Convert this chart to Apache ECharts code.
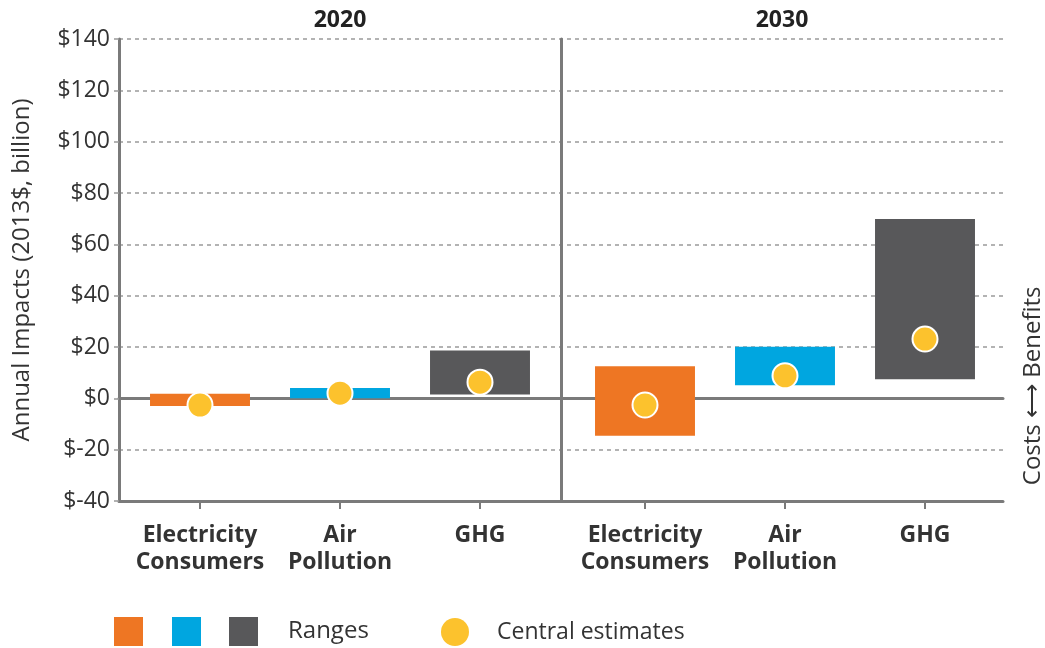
<!DOCTYPE html>
<html>
<head>
<meta charset="utf-8">
<script src="https://cdn.jsdelivr.net/npm/echarts@6/dist/echarts.min.js"></script>
<style>html,body{margin:0;padding:0;background:#fff}#c{width:1045px;height:648px}</style>
</head>
<body>
<div id="c"></div>
<script>
// ---- data ----
const years = ['2020', '2030'];
const categories = ['Electricity\nConsumers', 'Air\nPollution', 'GHG'];
const seriesNames = ['Electricity Consumers', 'Air Pollution', 'GHG'];
const rangeLow2020  = [-3.0, 0.0, 1.5];
const rangeHigh2020 = [1.8, 4.0, 18.6];
const rangeLow2030  = [-14.6, 5.1, 7.4];
const rangeHigh2030 = [12.5, 20.1, 69.9];
const central2020 = [-2.6, 2.0, 6.3];
const central2030 = [-2.6, 8.8, 23.1];
const yMin = -40, yMax = 140, yStep = 20;
const rightLabel = 'Costs \u27F7 Benefits';

// ---- style ----
const colors = ['#EE7623', '#00A6E0', '#58585A'];
const dotColor = '#FCC22D';
const axisGray = '#7a7a7a';
const txt = '#333333';
const FONT = 'Open Sans';

const chart = echarts.init(document.getElementById('c'), null, {renderer: 'canvas'});

function renderRange(params, api) {
  const x = api.value(0), lo = api.value(1), hi = api.value(2);
  const pTop = api.coord([x, hi]);
  const pBot = api.coord([x, lo]);
  const w = api.size([1, 0])[0] * 0.714;
  return {
    type: 'rect',
    shape: {x: pTop[0] - w / 2, y: pTop[1], width: w, height: pBot[1] - pTop[1]},
    style: api.style()
  };
}

const series = [];
[[rangeLow2020, rangeHigh2020, central2020], [rangeLow2030, rangeHigh2030, central2030]].forEach(function (set, g) {
  const axisIdx = g + 1;
  for (let i = 0; i < categories.length; i++) {
    series.push({
      name: seriesNames[i],
      type: 'custom',
      coordinateSystem: 'cartesian2d',
      xAxisIndex: axisIdx + 2,
      yAxisIndex: axisIdx + 1,
      renderItem: renderRange,
      encode: {x: 0, y: [1, 2]},
      itemStyle: {color: colors[i]},
      data: [[i, set[0][i], set[1][i]]],
      z: 2,
      silent: true
    });
  }
  series.push({
    name: 'Central estimates',
    type: 'scatter',
    xAxisIndex: axisIdx + 2,
    yAxisIndex: axisIdx + 1,
    symbolSize: 25,
    itemStyle: {color: dotColor, borderColor: '#ffffff', borderWidth: 2, opacity: 1},
    data: set[2].map(function (v, i) { return [i, v]; }),
    z: 5,
    silent: true
  });
});

const commonY = {type: 'value', min: yMin, max: yMax, interval: yStep};
const catLabel = {fontSize: 23, fontWeight: 'bold', color: txt, margin: 21, lineHeight: 27, fontFamily: FONT, interval: 0};

const option = {
  animation: false,
  backgroundColor: '#ffffff',
  textStyle: {fontFamily: FONT},
  grid: [
    {left: 119, right: 42, top: 39, bottom: 147, outerBoundsMode: 'none'},
    {left: 130, width: 420, top: 39, bottom: 147, outerBoundsMode: 'none'},
    {left: 575, width: 420, top: 39, bottom: 147, outerBoundsMode: 'none'}
  ],
  xAxis: [
    { // years on top
      type: 'category', gridIndex: 0, data: years, position: 'top',
      axisLine: {show: false, onZero: false}, axisTick: {show: false},
      axisLabel: {fontSize: 23, fontWeight: 'bold', color: '#222', margin: 7, fontFamily: FONT}
    },
    { // bottom line at -40
      type: 'category', gridIndex: 0, data: years, position: 'bottom',
      axisLine: {show: true, onZero: false, lineStyle: {color: axisGray, width: 3}},
      axisTick: {show: false}, axisLabel: {show: false}
    },
    { // zero line
      type: 'category', gridIndex: 0, data: years, position: 'bottom',
      axisLine: {show: true, onZero: true, lineStyle: {color: axisGray, width: 3}},
      axisTick: {show: false}, axisLabel: {show: false}
    },
    {
      type: 'category', gridIndex: 1, data: categories, position: 'bottom',
      axisLine: {show: false, onZero: false},
      axisTick: {show: true, alignWithLabel: true, length: 8, lineStyle: {color: axisGray, width: 2}},
      axisLabel: catLabel,
      splitLine: {show: false}
    },
    {
      type: 'category', gridIndex: 2, data: categories, position: 'bottom',
      axisLine: {show: false, onZero: false},
      axisTick: {show: true, alignWithLabel: true, length: 8, lineStyle: {color: axisGray, width: 2}},
      axisLabel: catLabel,
      splitLine: {show: false}
    }
  ],
  yAxis: [
    Object.assign({}, commonY, {
      gridIndex: 0, position: 'left',
      name: 'Annual Impacts (2013$, billion)', nameLocation: 'middle', nameGap: 85,
      nameTextStyle: {fontSize: 24, color: txt, fontFamily: FONT},
      axisLine: {show: true, lineStyle: {color: axisGray, width: 3}},
      axisTick: {show: true, length: 5, lineStyle: {color: '#999', width: 1.5}},
      axisLabel: {fontSize: 23, color: txt, margin: 9, fontFamily: FONT, formatter: function (v) { return '$' + v; }},
      splitLine: {show: true, lineStyle: {color: '#9a9a9a', width: 1.5, type: [4, 4]}}
    }),
    Object.assign({}, commonY, {
      gridIndex: 0, position: 'right',
      axisLine: {show: false}, axisTick: {show: false}, splitLine: {show: false},
      axisLabel: {
        rotate: 90, margin: 18, fontSize: 24, color: txt, fontFamily: FONT,
        formatter: function (v) { return v === 0 ? '\u00a0\u00a0\u00a0\u00a0' + rightLabel : ''; }
      }
    }),
    Object.assign({}, commonY, {gridIndex: 1, show: false}),
    Object.assign({}, commonY, {
      gridIndex: 2, position: 'left', offset: 14,
      axisLine: {show: true, lineStyle: {color: axisGray, width: 3}},
      axisTick: {show: false}, axisLabel: {show: false}, splitLine: {show: false}
    })
  ],
  legend: [
    {data: [{name: seriesNames[0], icon: 'rect'}], left: 114, top: 617, padding: 0, itemWidth: 29, itemHeight: 29,
     selectedMode: false, formatter: function () { return ''; }},
    {data: [{name: seriesNames[1], icon: 'rect'}], left: 172, top: 617, padding: 0, itemWidth: 29, itemHeight: 29,
     selectedMode: false, formatter: function () { return ''; }},
    {data: [{name: seriesNames[2], icon: 'rect'}], left: 229, top: 617, padding: 0, itemWidth: 29, itemHeight: 29,
     selectedMode: false, formatter: function () { return 'Ranges'; },
     textStyle: {fontSize: 24, color: txt, fontFamily: FONT, padding: [3, 0, 0, 25]}},
    {data: [{name: 'Central estimates', icon: 'circle', itemStyle: {borderWidth: 0}}], left: 441, top: 618, padding: 0,
     itemWidth: 28, itemHeight: 28, selectedMode: false,
     textStyle: {fontSize: 23, color: txt, fontFamily: FONT, padding: [3, 0, 0, 23]}}
  ],
  series: series
};

chart.setOption(option);
</script>
</body>
</html>
